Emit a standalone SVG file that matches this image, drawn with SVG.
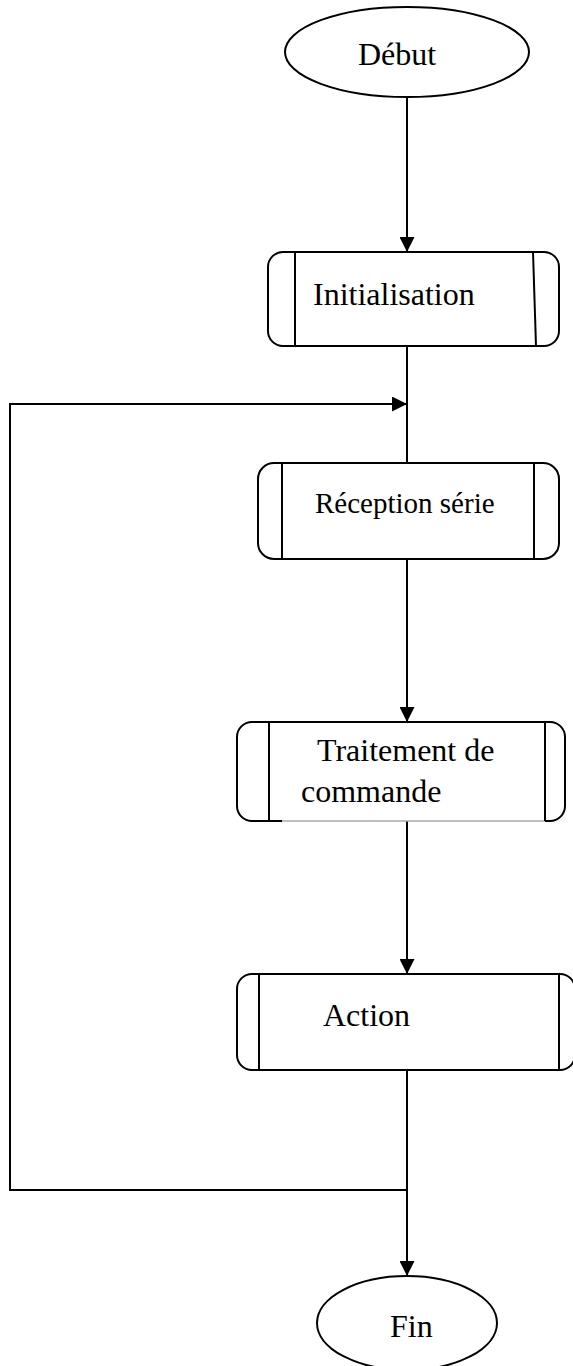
<svg xmlns="http://www.w3.org/2000/svg" width="573" height="1366" viewBox="0 0 573 1366">
<style>
.s{fill:#fff;stroke:#000;stroke-width:2}
.l{fill:none;stroke:#000;stroke-width:2}
.t{font-family:"Liberation Serif","Times New Roman",serif;font-size:32px;fill:#000}
</style>
<defs>
<marker id="ah" markerWidth="15" markerHeight="15" refX="15" refY="7.5" orient="auto" markerUnits="userSpaceOnUse">
<path d="M0,0 L15,7.5 L0,15 Z" fill="#000"/>
</marker>
</defs>
<rect width="573" height="1366" fill="#fff"/>
<g id="connectors">
<line class="l" x1="407" y1="97" x2="407" y2="252" marker-end="url(#ah)"/>
<line class="l" x1="407" y1="346" x2="407" y2="463"/>
<polyline class="l" points="407,1190 10,1190 10,404 407,404" marker-end="url(#ah)"/>
<line class="l" x1="407" y1="559" x2="407" y2="722" marker-end="url(#ah)"/>
<line class="l" x1="407" y1="821" x2="407" y2="974" marker-end="url(#ah)"/>
<line class="l" x1="407" y1="1070" x2="407" y2="1276" marker-end="url(#ah)"/>
</g>
<g id="debut">
<ellipse class="s" cx="407" cy="52" rx="122" ry="45"/>
<text class="t" x="358" y="65">Début</text>
</g>
<g id="initialisation">
<rect class="s" x="268" y="252" width="291" height="94" rx="15"/>
<line class="l" x1="295" y1="252" x2="295" y2="346"/>
<line class="l" x1="533" y1="252" x2="536" y2="346"/>
<text class="t" x="313" y="305">Initialisation</text>
</g>
<g id="reception">
<rect class="s" x="258" y="463" width="301" height="96" rx="16"/>
<line class="l" x1="282" y1="463" x2="282" y2="559"/>
<line class="l" x1="534" y1="463" x2="534" y2="559"/>
<text class="t" x="315" y="513" style="font-size:29px">Réception série</text>
</g>
<g id="traitement">
<rect x="237" y="722" width="328" height="99" rx="15" fill="#fff"/>
<path class="l" d="M282,821 L252,821 A15,15 0 0 1 237,806 L237,737 A15,15 0 0 1 252,722 L550,722 A15,15 0 0 1 565,737 L565,806 A15,15 0 0 1 550,821 L545,821"/>
<line x1="282" y1="821" x2="545" y2="821" stroke="#aaa" stroke-width="1.5"/>
<line class="l" x1="269" y1="722" x2="269" y2="821"/>
<line class="l" x1="545" y1="722" x2="545" y2="821"/>
<text class="t" x="317" y="761">Traitement de</text>
<text class="t" x="301" y="802">commande</text>
</g>
<g id="action">
<rect class="s" x="237" y="974" width="338" height="96" rx="15"/>
<line class="l" x1="259" y1="974" x2="259" y2="1070"/>
<line class="l" x1="559" y1="974" x2="559" y2="1070"/>
<text class="t" x="323" y="1026">Action</text>
</g>
<g id="fin">
<ellipse class="s" cx="407" cy="1323" rx="90" ry="47"/>
<text class="t" x="390" y="1337">Fin</text>
</g>
</svg>
